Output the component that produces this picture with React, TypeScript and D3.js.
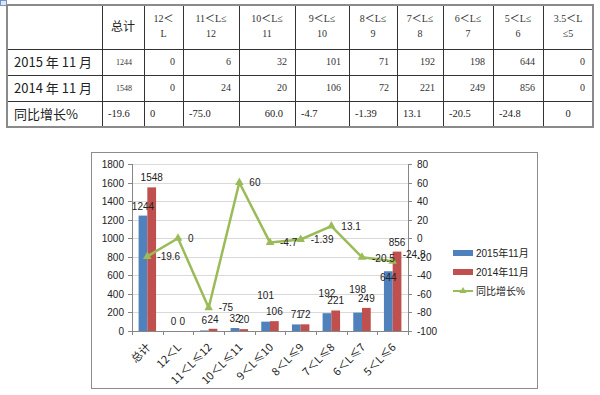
import React, { useRef, useEffect } from "react";
import * as d3 from "d3";

// chart data
const categories = ["总计", "12＜L", "11＜L≤12", "10＜L≤11", "9＜L≤10", "8＜L≤9", "7＜L≤8", "6＜L≤7", "5＜L≤6"];
const sales2015 = [1244, 0, 6, 32, 101, 71, 192, 198, 644];
const sales2014 = [1548, 0, 24, 20, 106, 72, 221, 249, 856];
const growth = [-19.6, 0, -75, 60, -4.7, -1.39, 13.1, -20.5, -24.8];
const leftTicks = [0, 200, 400, 600, 800, 1000, 1200, 1400, 1600, 1800];
const rightTicks = [-100, -80, -60, -40, -20, 0, 20, 40, 60, 80];
const seriesNames = ["2015年11月", "2014年11月", "同比增长%"];

// table data
const tableHeads = [
  ["总计"], ["12＜", "L"], ["11＜L≤", "12"], ["10＜L≤", "11"], ["9＜L≤", "10"],
  ["8＜L≤", "9"], ["7＜L≤", "8"], ["6＜L≤", "7"], ["5＜L≤", "6"], ["3.5＜L", "≤5"],
];
const rowNames = ["2015 年 11 月", "2014 年 11 月", "同比增长%"];
const table2015 = ["1244", "0", "6", "32", "101", "71", "192", "198", "644", "0"];
const table2014 = ["1548", "0", "24", "20", "106", "72", "221", "249", "856", "0"];
const tableGrowth = ["-19.6", "0", "-75.0", "60.0", "-4.7", "-1.39", "13.1", "-20.5", "-24.8", "0"];

// layout (not data)
const colEdges = [7, 102, 144, 183, 239, 295, 349, 397, 443, 493, 543, 593];
const rowEdges = [5, 49, 75, 101, 127];
const growthAlign = ["start", "start", "start", "end", "start", "start", "start", "start", "start", "middle"];
const blueLabelNudge: Record<number, number> = { 4: -17, 6: -10, 7: -14, 8: 16 };
const lineLabelNudge: Record<number, number> = { 7: 1, 8: -7 };

const BLUE = "#4F81BD";
const RED = "#C0504D";
const GREEN = "#9BBB59";
const SANS = "'Liberation Sans', 'Noto Sans CJK SC', sans-serif";
const CJK = "'Noto Sans CJK SC', sans-serif";
const SERIF = "'Liberation Serif', 'Noto Sans CJK SC', serif";

const App: React.FC = () => {
  const ref = useRef<SVGSVGElement | null>(null);

  useEffect(() => {
    const svg = d3.select(ref.current);
    svg.selectAll("*").remove();

    // ---------- table ----------
    const tbl = svg.append("g");
    // move handle
    tbl.append("rect").attr("x", 0.5).attr("y", 0.5).attr("width", 6).attr("height", 5)
      .attr("fill", "#dde6f4").attr("stroke", "#5b7fbf").attr("stroke-width", 0.8);

    for (let i = 1; i < colEdges.length - 1; i++) {
      tbl.append("line").attr("x1", colEdges[i] + 0.5).attr("x2", colEdges[i] + 0.5)
        .attr("y1", rowEdges[0]).attr("y2", rowEdges[rowEdges.length - 1])
        .attr("stroke", "#333").attr("stroke-width", 1);
    }
    for (let j = 1; j < rowEdges.length - 1; j++) {
      tbl.append("line").attr("x1", colEdges[0]).attr("x2", colEdges[colEdges.length - 1])
        .attr("y1", rowEdges[j] + 0.5).attr("y2", rowEdges[j] + 0.5)
        .attr("stroke", "#333").attr("stroke-width", 1);
    }
    tbl.append("rect")
      .attr("x", colEdges[0]).attr("y", rowEdges[0])
      .attr("width", colEdges[colEdges.length - 1] - colEdges[0])
      .attr("height", rowEdges[rowEdges.length - 1] - rowEdges[0])
      .attr("fill", "none").attr("stroke", "#8a8a8a").attr("stroke-width", 2);

    tableHeads.forEach((lines, i) => {
      const cx = (colEdges[i + 1] + colEdges[i + 2]) / 2;
      if (lines.length === 1) {
        tbl.append("text").attr("x", cx).attr("y", (rowEdges[0] + rowEdges[1]) / 2 + 1)
          .attr("text-anchor", "middle").attr("dominant-baseline", "middle")
          .style("font-family", CJK).style("font-size", "12px").attr("fill", "#222")
          .text(lines[0]);
      } else {
        lines.forEach((t, k) => {
          tbl.append("text").attr("x", cx).attr("y", 20 + k * 15)
            .attr("text-anchor", "middle").attr("dominant-baseline", "middle")
            .style("font-family", SERIF).style("font-size", "10px").attr("fill", "#333")
            .text(t);
        });
      }
    });

    rowNames.forEach((name, r) => {
      tbl.append("text").attr("x", 14).attr("y", (rowEdges[r + 1] + rowEdges[r + 2]) / 2 + 1)
        .attr("dominant-baseline", "middle")
        .style("font-family", CJK).style("font-size", "13px").attr("fill", "#222")
        .text(name);
    });

    [table2015, table2014].forEach((row, r) => {
      const cy = (rowEdges[r + 1] + rowEdges[r + 2]) / 2 + 1;
      row.forEach((v, i) => {
        tbl.append("text")
          .attr("x", colEdges[i + 2] - (i === 0 ? 12 : 8)).attr("y", cy)
          .attr("text-anchor", "end").attr("dominant-baseline", "middle")
          .style("font-family", SERIF).style("font-size", i === 0 ? "8px" : "10px").attr("fill", "#333")
          .text(v);
      });
    });
    tableGrowth.forEach((v, i) => {
      const a = growthAlign[i];
      const x0 = colEdges[i + 1], x1 = colEdges[i + 2];
      const xx = a === "start" ? x0 + 6 : a === "end" ? x1 - 12 : (x0 + x1) / 2;
      tbl.append("text").attr("x", xx).attr("y", (rowEdges[3] + rowEdges[4]) / 2 + 1)
        .attr("text-anchor", a).attr("dominant-baseline", "middle")
        .style("font-family", SERIF).style("font-size", "10.5px").attr("fill", "#222")
        .text(v);
    });

    // ---------- chart ----------
    const ch = svg.append("g").style("font-family", SANS);
    ch.append("rect").attr("x", 91.5).attr("y", 152.5).attr("width", 446).attr("height", 236)
      .attr("fill", "#fff").attr("stroke", "#8c8c8c").attr("stroke-width", 1);

    const plot = { left: 132, right: 408, top: 164, bottom: 331 };
    const x = d3.scaleBand<string>().domain(categories).range([plot.left, plot.right])
      .paddingInner(0.43).paddingOuter(0.215);
    const step = x.step();
    const xs = d3.scaleBand<string>().domain(["a", "b"]).range([0, x.bandwidth()]);
    const yL = d3.scaleLinear().domain([0, 1800]).range([plot.bottom, plot.top]);
    const yR = d3.scaleLinear().domain([-100, 80]).range([plot.bottom, plot.top]);
    const cxOf = (c: string) => (x(c) as number) + x.bandwidth() / 2;

    // gridlines
    ch.selectAll(".grid").data(leftTicks.slice(1)).join("line")
      .attr("x1", plot.left).attr("x2", plot.right)
      .attr("y1", (d) => Math.round(yL(d)) + 0.5).attr("y2", (d) => Math.round(yL(d)) + 0.5)
      .attr("stroke", "#d9d9d9").attr("stroke-width", 1);

    // bars
    const drawBars = (vals: number[], key: string, color: string) => {
      ch.append("g").selectAll("rect").data(vals).join("rect")
        .attr("x", (_d, i) => (x(categories[i]) as number) + (xs(key) as number))
        .attr("y", (d) => yL(d))
        .attr("width", xs.bandwidth())
        .attr("height", (d) => plot.bottom - yL(d))
        .attr("fill", color);
    };
    drawBars(sales2015, "a", BLUE);
    drawBars(sales2014, "b", RED);

    // axes
    const axisColor = "#868686";
    ch.append("line").attr("x1", plot.left + 0.5).attr("x2", plot.left + 0.5)
      .attr("y1", plot.top).attr("y2", plot.bottom).attr("stroke", axisColor);
    ch.append("line").attr("x1", plot.right + 0.5).attr("x2", plot.right + 0.5)
      .attr("y1", plot.top).attr("y2", plot.bottom).attr("stroke", axisColor);
    ch.append("line").attr("x1", plot.left).attr("x2", plot.right)
      .attr("y1", plot.bottom + 0.5).attr("y2", plot.bottom + 0.5).attr("stroke", axisColor);

    leftTicks.forEach((t) => {
      const yy = Math.round(yL(t)) + 0.5;
      ch.append("line").attr("x1", plot.left - 4).attr("x2", plot.left).attr("y1", yy).attr("y2", yy).attr("stroke", axisColor);
      ch.append("text").attr("x", plot.left - 8).attr("y", yy).attr("dy", "0.35em")
        .attr("text-anchor", "end").style("font-size", "10px").attr("fill", "#222").text(t);
    });
    rightTicks.forEach((t) => {
      const yy = Math.round(yR(t)) + 0.5;
      ch.append("line").attr("x1", plot.right).attr("x2", plot.right + 4).attr("y1", yy).attr("y2", yy).attr("stroke", axisColor);
      ch.append("text").attr("x", plot.right + 9).attr("y", yy).attr("dy", "0.35em")
        .style("font-size", "10px").attr("fill", "#222").text(t);
    });
    for (let i = 0; i <= categories.length; i++) {
      const xx = Math.round(plot.left + i * step) + 0.5;
      ch.append("line").attr("x1", xx).attr("x2", xx).attr("y1", plot.bottom).attr("y2", plot.bottom + 4).attr("stroke", axisColor);
    }
    categories.forEach((c) => {
      const ax = cxOf(c) + 4, ay = plot.bottom + 17;
      ch.append("text").attr("transform", `translate(${ax},${ay}) rotate(-45)`)
        .attr("text-anchor", "end").style("font-family", CJK).style("font-size", "11px")
        .attr("fill", "#222").text(c);
    });

    // line series
    const line = d3.line<number>().x((_d, i) => cxOf(categories[i])).y((d) => yR(d));
    ch.append("path").datum(growth).attr("d", line).attr("fill", "none")
      .attr("stroke", GREEN).attr("stroke-width", 2.5).attr("stroke-linejoin", "round");
    const tri = d3.symbol(d3.symbolTriangle, 32);
    ch.append("g").selectAll("path").data(growth).join("path")
      .attr("d", tri)
      .attr("transform", (d, i) => `translate(${cxOf(categories[i])},${yR(d)})`)
      .attr("fill", GREEN);

    // labels
    const labelBars = (vals: number[], key: string, nudge: Record<number, number>) => {
      vals.forEach((v, i) => {
        const bx = (x(categories[i]) as number) + (xs(key) as number) + xs.bandwidth() / 2;
        ch.append("text").attr("x", bx).attr("y", yL(v) - 6 + (nudge[i] || 0))
          .attr("text-anchor", "middle").style("font-size", "10px").attr("fill", "#222").text(v);
      });
    };
    labelBars(sales2015, "a", blueLabelNudge);
    labelBars(sales2014, "b", {});
    growth.forEach((g, i) => {
      ch.append("text").attr("x", cxOf(categories[i]) + 10)
        .attr("y", yR(g) + (lineLabelNudge[i] || 0)).attr("dy", "0.35em")
        .style("font-size", "10px").attr("fill", "#222").text(g);
    });

    // legend
    const lg = ch.append("g").attr("transform", "translate(453,253)");
    seriesNames.forEach((name, i) => {
      const yy = i * 19;
      if (i < 2) {
        lg.append("rect").attr("x", 0).attr("y", yy - 3).attr("width", 20).attr("height", 6)
          .attr("fill", i === 0 ? BLUE : RED);
      } else {
        lg.append("line").attr("x1", 0).attr("x2", 20).attr("y1", yy).attr("y2", yy)
          .attr("stroke", GREEN).attr("stroke-width", 2);
        lg.append("path").attr("d", d3.symbol(d3.symbolTriangle, 22)()).attr("transform", `translate(10,${yy})`).attr("fill", GREEN);
      }
      lg.append("text").attr("x", 23).attr("y", yy).attr("dy", "0.35em")
        .style("font-family", SANS).style("font-size", "10px").attr("fill", "#222").text(name);
    });
  }, []);

  return (
    <svg ref={ref} width={600} height={395}
      style={{ position: "absolute", left: 0, top: 0, background: "#fff" }} />
  );
};

export default App;
